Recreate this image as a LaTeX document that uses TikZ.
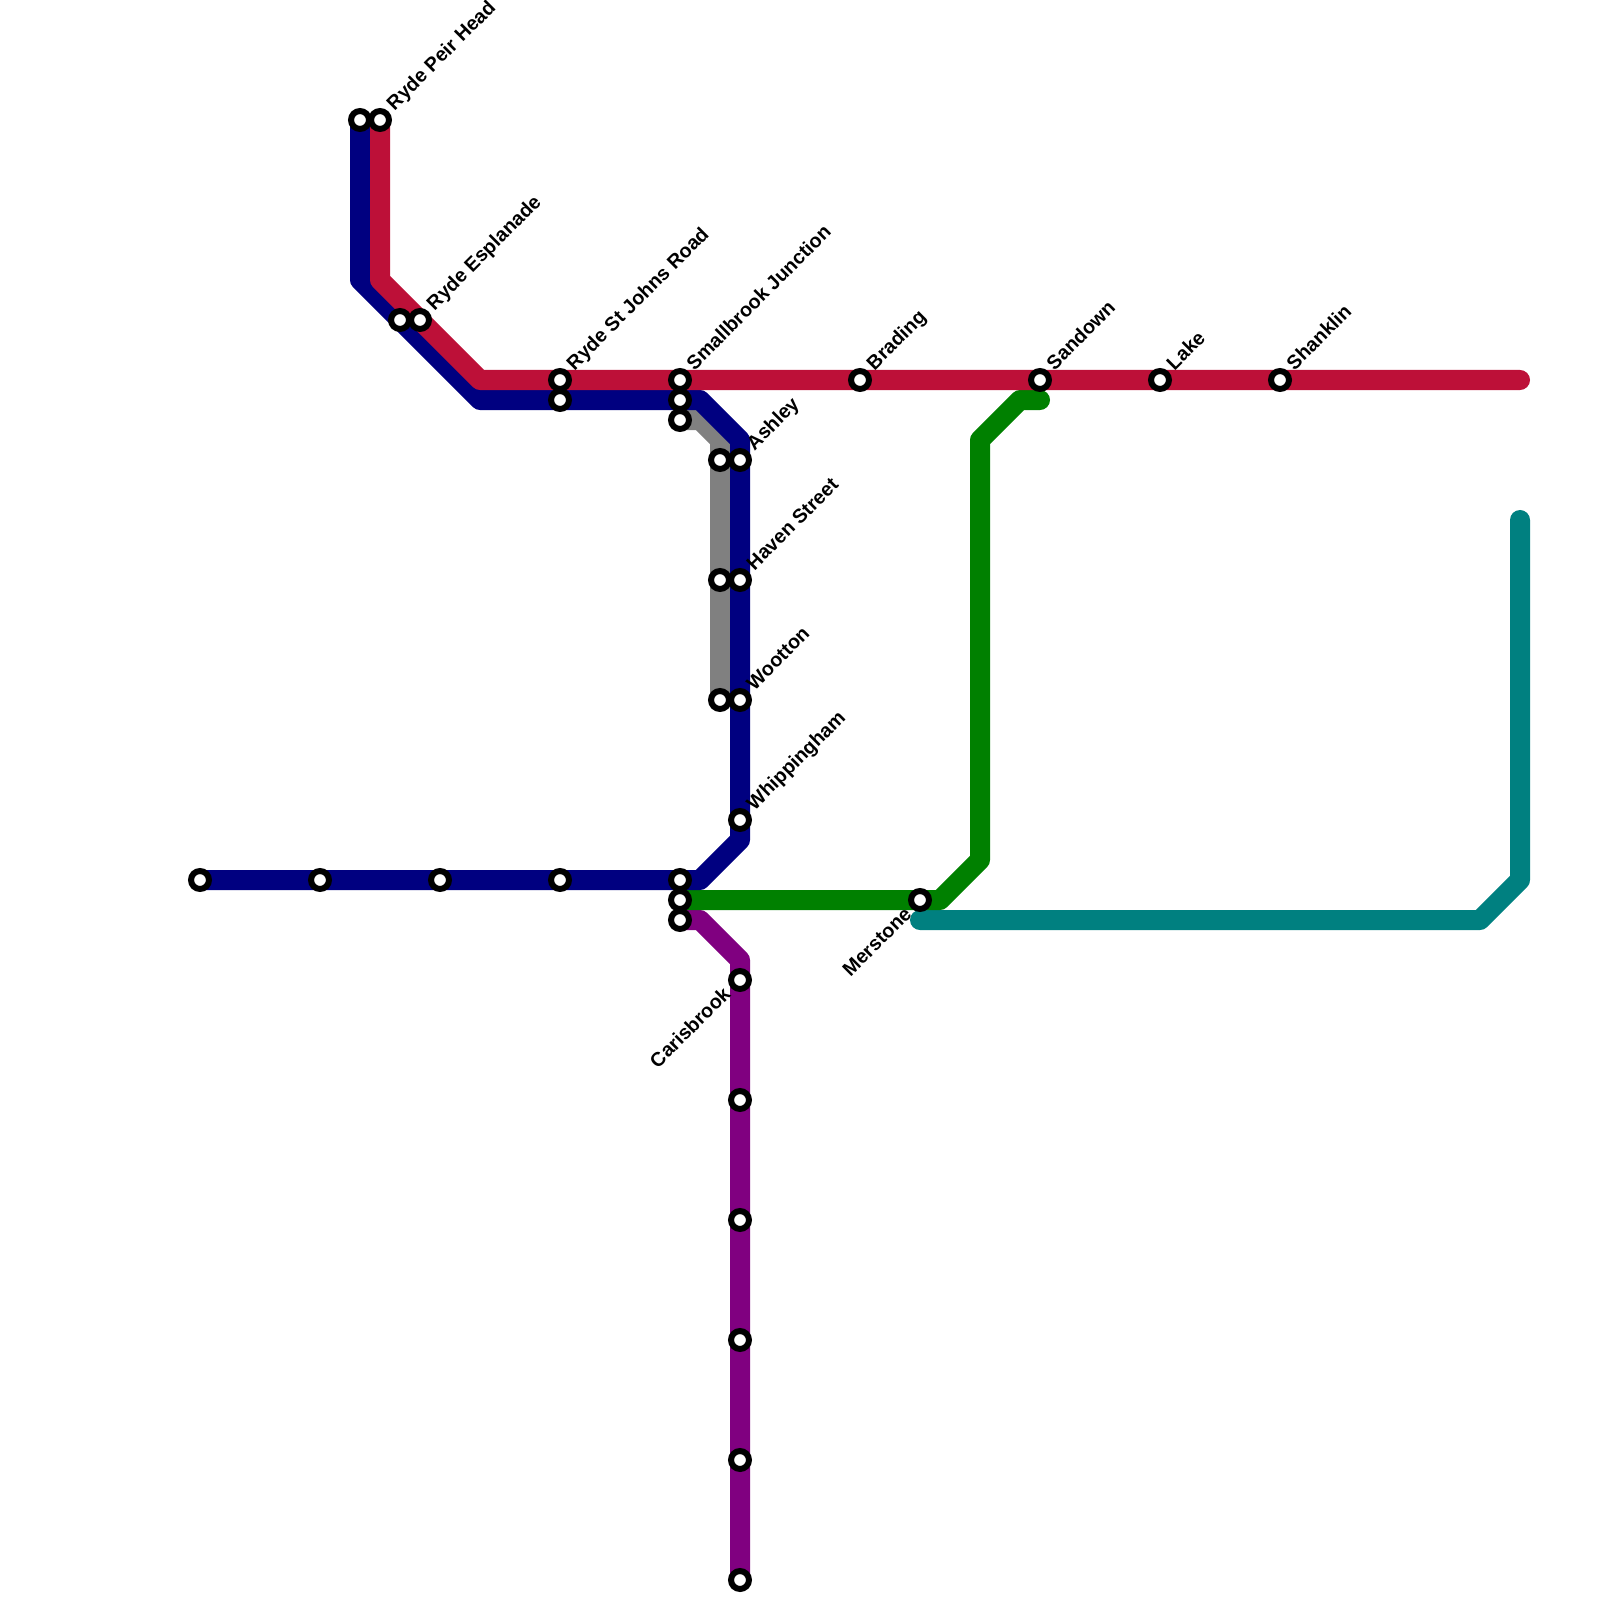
\documentclass[tikz,border=0pt]{standalone}
\usepackage{fontspec}
\setmainfont{Liberation Sans}
\usetikzlibrary{backgrounds}
\definecolor{cblue}{HTML}{000080}
\definecolor{cred}{HTML}{BD1038}
\definecolor{cgrey}{HTML}{808080}
\definecolor{cgreen}{HTML}{008000}
\definecolor{cteal}{HTML}{008080}
\definecolor{cpurple}{HTML}{800080}
\tikzset{
  stop/.style={circle,draw=black,fill=white,line width=1.71pt,minimum size=5.1pt,inner sep=0pt,outer sep=0pt},
  route/.style={line width=5.69pt,line cap=round,line join=round},
  lab/.style={font=\bfseries\fontsize{5.6pt}{6.4pt}\selectfont,rotate=45,inner sep=0pt,text=black,anchor=base west},
  labr/.style={lab,anchor=base east}
}
\begin{document}
\begin{tikzpicture}[x=0.01cm,y=-0.01cm]
\useasboundingbox (0,0) rectangle (1600,1600);
% stations
\foreach \n/\x/\y in {b1/200/880,b2/320/880,b3/440/880,b4/560/880,b5/680/880,
  g0/680/900,p0/680/920,
  a1/360/120,a2/380/120,c1/400/320,c2/420/320,d1/560/380,d2/560/400,
  e1/680/380,e2/680/400,e3/680/420,
  f1/720/460,f2/740/460,h1/720/580,h2/740/580,w1/720/700,w2/740/700,wh/740/820,
  br/860/380,sa/1040/380,la/1160/380,sh/1280/380,me/920/900,
  p1/740/980,p2/740/1100,p3/740/1220,p4/740/1340,p5/740/1460,p6/740/1580}
  {\node[stop] (\n) at (\x,\y) {};}
% free route points
\coordinate (rb1) at (380,280); \coordinate (rb2) at (480,380); \coordinate (rend) at (1520,380);
\coordinate (bb1) at (360,280); \coordinate (bb2) at (480,400); \coordinate (bb3) at (700,400);
\coordinate (bb4) at (740,440); \coordinate (bb5) at (740,840); \coordinate (bb6) at (700,880);
\coordinate (gy1) at (700,420); \coordinate (gy2) at (720,440);
\coordinate (gn1) at (940,900); \coordinate (gn2) at (980,860); \coordinate (gn3) at (980,440);
\coordinate (gn4) at (1020,400); \coordinate (gn5) at (1040,400);
\coordinate (t0) at (920,920); \coordinate (t1) at (1480,920); \coordinate (t2) at (1520,880); \coordinate (t3) at (1520,520);
\coordinate (pu1) at (700,920); \coordinate (pu2) at (740,960);
\begin{scope}[on background layer]
\draw[route,cteal] (t0)--(t1)--(t2)--(t3);
\draw[route,cpurple] (p0.center)--(pu1)--(pu2)--(p6.center);
\draw[route,cgreen] (g0.center)--(gn1)--(gn2)--(gn3)--(gn4)--(gn5);
\draw[route,cgrey] (e3.center)--(gy1)--(gy2)--(w1.center);
\draw[route,cblue] (a1.center)--(bb1)--(bb2)--(bb3)--(bb4)--(bb5)--(bb6)--(b1.center);
\draw[route,cred] (a2.center)--(rb1)--(rb2)--(rend);
\end{scope}
% labels
\node[lab] (l1) at ([shift={(14,-8.5)}]a2) {Ryde Peir Head};
\node[lab] (l2) at ([shift={(14,-8.5)}]c2) {Ryde Esplanade};
\node[lab] (l3) at ([shift={(14,-8.5)}]d1) {Ryde St Johns Road};
\node[lab] (l4) at ([shift={(14,-8.5)}]e1) {Smallbrook Junction};
\node[lab] (l5) at ([shift={(14,-8.5)}]br) {Brading};
\node[lab] (l6) at ([shift={(14,-8.5)}]sa) {Sandown};
\node[lab] (l7) at ([shift={(14,-8.5)}]la) {Lake};
\node[lab] (l8) at ([shift={(14,-8.5)}]sh) {Shanklin};
\node[lab] (l9) at ([shift={(14,-8.5)}]f2) {Ashley};
\node[lab] (l10) at ([shift={(14,-8.5)}]h2) {Haven Street};
\node[lab] (l11) at ([shift={(14,-8.5)}]w2) {Wootton};
\node[lab] (l12) at ([shift={(14,-8.5)}]wh) {Whippingham};
\node[labr] (l13) at ([shift={(-7,15)}]me) {Merstone};
\node[labr] (l14) at ([shift={(-8,15)}]p1) {Carisbrook};
\end{tikzpicture}
\end{document}
